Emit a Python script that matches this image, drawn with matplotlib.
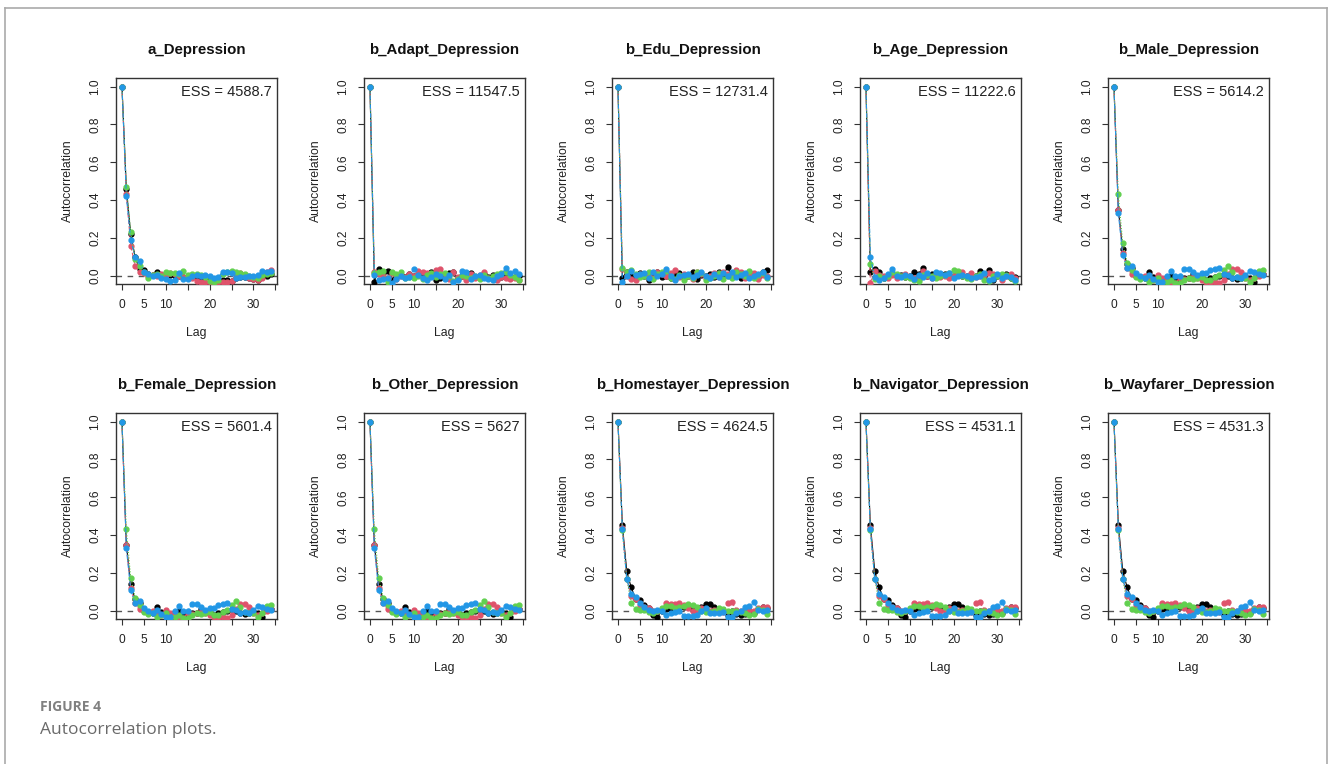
import matplotlib
matplotlib.use("Agg")
import matplotlib.pyplot as plt
from matplotlib.lines import Line2D

plt.rcParams['font.family'] = ['Liberation Sans', 'DejaVu Sans']

# lags 0..34
lags = list(range(35))

# chain colours (R 4.0 palette) and line types used by matplot
chain_colors = ['#000000', '#DF536B', '#61D04F', '#2297E6']
chain_ls = ['-', (0, (4, 2)), (0, (1, 1.5)), (0, (4, 1.5, 1, 1.5))]

# --- a_Depression
a_dep = [
    [1, 0.46, 0.22, 0.10, 0.035, 0.03, 0.01, 0.005, 0.02, 0.005, 0.0, 0.005, 0.0, 0.0, -0.005, -0.01, 0.0, -0.005,
     -0.01, -0.005, -0.01, -0.015, -0.02, -0.02, -0.02, -0.025, -0.01, -0.005, -0.005, -0.01, -0.015, -0.02, -0.005, 0.0, 0.01],
    [1, 0.43, 0.16, 0.05, 0.02, 0.015, 0.0, 0.005, 0.0, 0.01, 0.005, 0.015, 0.01, 0.0, -0.005, 0.0, -0.01, -0.025,
     -0.03, -0.035, -0.035, -0.04, -0.035, -0.03, -0.035, -0.025, 0.0, 0.015, 0.0, -0.01, -0.015, -0.02, -0.01, 0.02, 0.03],
    [1, 0.47, 0.23, 0.09, 0.05, 0.02, -0.01, 0.005, 0.01, 0.0, 0.02, 0.015, 0.015, 0.01, 0.025, 0.005, 0.01, 0.01,
     0.005, -0.005, -0.025, -0.035, -0.02, 0.01, 0.02, 0.025, 0.02, 0.015, 0.01, 0.0, -0.005, -0.01, 0.005, 0.01, 0.015],
    [1, 0.42, 0.19, 0.10, 0.08, 0.02, 0.01, 0.0, 0.005, -0.01, -0.015, -0.025, -0.02, 0.015, -0.015, -0.015, 0.0, 0.005,
     0.0, 0.005, 0.0, -0.01, -0.005, 0.02, 0.02, 0.015, -0.01, -0.005, -0.005, 0.0, 0.0, 0.005, 0.025, 0.02, 0.025],
]

# --- b_Adapt_Depression
b_adapt = [
    [1, -0.03, 0.035, 0.015, 0.025, -0.02, 0.0, 0.005, -0.005, 0.01, 0.0, 0.005, 0.015, -0.01, 0.02, -0.02, -0.01, 0.01,
     0.015, 0.02, -0.01, 0.0, 0.01, 0.015, -0.005, 0.0, 0.01, -0.005, 0.005, -0.015, -0.005, 0.0, -0.01, -0.005, 0.0],
    [1, 0.02, 0.01, 0.0, -0.01, 0.015, -0.015, 0.0, -0.005, 0.01, 0.0, 0.025, 0.02, 0.015, 0.0, 0.03, 0.035, 0.01,
     -0.015, 0.02, -0.005, 0.0, -0.02, 0.01, -0.01, 0.005, 0.02, -0.01, -0.015, -0.02, -0.005, -0.01, -0.015, -0.01, -0.02],
    [1, 0.015, 0.02, 0.025, -0.035, 0.02, 0.01, 0.02, -0.01, -0.005, -0.01, 0.0, -0.015, 0.005, 0.015, -0.005, 0.01, 0.015,
     0.0, -0.025, -0.015, 0.005, 0.0, -0.01, 0.0, -0.015, 0.005, -0.01, 0.0, 0.01, 0.015, 0.02, 0.005, -0.005, -0.02],
    [1, 0.005, -0.02, -0.015, -0.01, -0.04, -0.015, 0.0, -0.01, -0.005, 0.035, 0.005, -0.01, -0.02, -0.005, 0.01, 0.0, -0.015,
     0.005, -0.03, -0.02, 0.025, 0.02, -0.015, 0.0, 0.005, -0.01, -0.015, -0.02, 0.0, 0.01, 0.04, 0.015, 0.025, 0.01],
]

# --- b_Edu_Depression
b_edu = [
    [1, -0.01, 0.02, 0.0, -0.01, 0.015, 0.0, -0.02, 0.005, 0.02, -0.005, 0.0, -0.01, 0.01, 0.015, -0.01, 0.0, 0.02,
     -0.015, 0.005, 0.0, 0.01, -0.005, 0.02, 0.005, 0.045, 0.0, 0.015, -0.01, 0.0, 0.02, 0.01, -0.005, 0.02, 0.03],
    [1, 0.035, 0.0, -0.015, -0.02, 0.01, 0.005, 0.0, -0.01, 0.02, 0.01, 0.0, 0.015, 0.03, -0.005, 0.01, 0.0, -0.015,
     0.02, 0.01, -0.01, 0.0, 0.015, -0.005, 0.02, 0.01, 0.0, 0.03, 0.02, -0.01, 0.0, 0.015, -0.015, 0.005, 0.0],
    [1, 0.04, 0.02, 0.03, 0.01, -0.005, 0.0, 0.02, -0.015, 0.01, 0.02, 0.025, -0.01, -0.015, 0.005, -0.02, 0.0, -0.01,
     0.02, 0.015, -0.02, -0.01, 0.0, 0.015, -0.015, 0.0, -0.01, 0.02, 0.01, 0.0, 0.025, -0.01, 0.005, 0.015, -0.01],
    [1, -0.03, 0.0, 0.025, 0.005, 0.01, 0.015, -0.01, 0.02, 0.0, 0.01, 0.035, 0.0, -0.02, 0.0, 0.005, 0.01, -0.005,
     0.005, 0.02, 0.0, -0.01, 0.01, -0.005, 0.015, 0.0, 0.02, -0.005, 0.005, 0.015, -0.01, 0.0, 0.01, 0.02, -0.005],
]

# --- b_Age_Depression
b_age = [
    [1, 0.02, 0.035, 0.02, -0.01, 0.0, 0.01, 0.0, 0.005, -0.005, 0.0, 0.02, 0.01, 0.04, 0.0, 0.01, 0.005, 0.0,
     0.01, -0.005, 0.0, 0.005, 0.0, 0.0, -0.01, 0.0, 0.025, 0.0, 0.03, -0.02, 0.0, -0.005, 0.01, -0.01, -0.005],
    [1, -0.04, 0.025, 0.005, 0.0, -0.01, 0.005, -0.01, 0.0, 0.01, -0.005, -0.01, -0.015, 0.025, 0.0, -0.01, 0.01, -0.005,
     0.0, -0.01, 0.0, 0.01, 0.02, 0.0, 0.015, -0.005, 0.0, 0.005, 0.015, 0.01, 0.005, -0.02, 0.0, 0.01, -0.01],
    [1, 0.06, -0.015, 0.0, -0.01, 0.0, 0.02, 0.01, 0.0, -0.005, -0.01, -0.02, -0.025, 0.005, 0.005, 0.0, -0.01, 0.0,
     0.005, 0.015, 0.03, 0.025, 0.0, -0.01, -0.015, 0.0, 0.01, -0.02, -0.025, 0.0, 0.0, 0.01, 0.005, -0.01, -0.025],
    [1, 0.10, -0.005, -0.02, -0.01, 0.01, 0.035, 0.0, -0.005, 0.005, 0.0, -0.015, 0.005, -0.005, 0.015, -0.01, 0.02, 0.015,
     0.005, 0.015, -0.01, 0.0, 0.005, 0.0, -0.01, -0.005, 0.0, 0.015, -0.02, -0.015, 0.01, -0.01, 0.0, -0.005, -0.02],
]

# --- b_Male / b_Female / b_Other (visually identical in the reference)
b_male = [
    [1, 0.35, 0.14, 0.06, 0.04, 0.0, -0.005, -0.01, 0.02, -0.005, -0.01, -0.02, -0.01, 0.0, -0.01, -0.02, -0.01, -0.01,
     0.01, 0.0, -0.005, -0.02, -0.01, -0.005, 0.0, 0.01, 0.0, -0.01, -0.015, -0.01, 0.0, -0.01, -0.03, 0.005, 0.01],
    [1, 0.35, 0.12, 0.04, 0.01, 0.0, -0.005, 0.0, -0.005, -0.02, 0.005, -0.01, -0.02, -0.03, -0.04, -0.01, -0.015, -0.01,
     -0.005, -0.01, -0.02, -0.03, -0.04, -0.035, -0.04, -0.02, 0.01, 0.035, 0.035, 0.02, -0.01, -0.02, -0.01, 0.0, 0.01],
    [1, 0.43, 0.175, 0.07, 0.03, -0.005, -0.015, -0.01, -0.03, -0.02, -0.01, -0.03, -0.035, -0.02, -0.04, -0.04, -0.02, -0.01,
     -0.015, -0.01, -0.005, -0.02, -0.02, -0.005, 0.005, 0.03, 0.05, 0.02, -0.005, -0.01, -0.01, -0.03, -0.01, 0.025, 0.03],
    [1, 0.33, 0.11, 0.04, 0.05, 0.015, 0.0, -0.01, 0.005, -0.015, -0.03, -0.03, 0.0, 0.025, 0.0, 0.0, 0.035, 0.035,
     0.02, 0.005, 0.015, 0.015, 0.03, 0.035, 0.04, 0.01, 0.005, -0.01, -0.005, -0.01, 0.005, 0.025, 0.02, 0.01, 0.005],
]

# --- b_Homestayer / b_Navigator / b_Wayfarer (visually identical)
b_home = [
    [1, 0.455, 0.21, 0.125, 0.065, 0.055, 0.03, 0.015, -0.02, -0.03, 0.0, 0.01, 0.005, 0.01, 0.02, 0.02, 0.025, 0.01,
     0.01, 0.02, 0.035, 0.035, 0.02, 0.005, 0.0, -0.02, 0.0, -0.015, -0.02, -0.015, -0.01, -0.01, 0.01, 0.02, 0.015],
    [1, 0.44, 0.17, 0.08, 0.065, 0.03, 0.02, 0.015, 0.0, 0.0, 0.01, 0.04, 0.035, 0.035, 0.04, 0.03, 0.015, 0.0,
     0.005, 0.015, 0.01, 0.0, 0.005, 0.0, -0.005, 0.04, 0.045, 0.005, 0.0, -0.005, 0.005, 0.0, 0.015, 0.02, 0.02],
    [1, 0.425, 0.17, 0.04, 0.01, 0.005, 0.005, -0.005, -0.01, 0.0, 0.015, 0.025, 0.025, 0.015, 0.02, 0.025, 0.035, 0.03,
     0.02, 0.0, -0.005, -0.005, 0.0, 0.015, 0.01, 0.0, 0.0, 0.0, -0.005, -0.01, -0.02, -0.015, 0.01, 0.005, -0.015],
    [1, 0.43, 0.17, 0.09, 0.075, 0.04, 0.02, 0.005, 0.0, 0.005, 0.0, -0.02, -0.01, -0.005, 0.0, -0.025, -0.025, -0.025,
     -0.02, 0.0, 0.015, -0.01, -0.01, -0.01, -0.005, -0.035, -0.03, -0.01, 0.0, 0.02, 0.025, 0.045, 0.005, 0.0, 0.005],
]

titles = ['a_Depression', 'b_Adapt_Depression', 'b_Edu_Depression', 'b_Age_Depression', 'b_Male_Depression',
          'b_Female_Depression', 'b_Other_Depression', 'b_Homestayer_Depression', 'b_Navigator_Depression',
          'b_Wayfarer_Depression']
ess = ['4588.7', '11547.5', '12731.4', '11222.6', '5614.2',
       '5601.4', '5627', '4624.5', '4531.1', '4531.3']
panel_data = [a_dep, b_adapt, b_edu, b_age, b_male,
              b_male, b_male, b_home, b_home, b_home]

W, H = 1328, 764
fig = plt.figure(figsize=(W / 100, H / 100), dpi=100)

box_w, box_h = 161, 206
for i, (title, e, chains) in enumerate(zip(titles, ess, panel_data)):
    r, c = divmod(i, 5)
    left = 116 + 248 * c
    top = 78 + 335 * r
    ax = fig.add_axes([left / W, 1 - (top + box_h) / H, box_w / W, box_h / H])
    for vals, col, ls in zip(chains, chain_colors, chain_ls):
        ax.plot(lags, vals, color=col, ls=ls, lw=0.8, marker='o', ms=3.5,
                mec=col, mfc=col, zorder=3)
    ax.axhline(0, color='#555555', ls=(0, (4, 4)), lw=1.0, zorder=2)
    ax.set_xlim(-1.36, 35.36)
    ax.set_ylim(-0.043, 1.045)
    ax.set_xticks(range(0, 36, 5))
    ax.set_xticklabels(['0', '5', '10', '', '20', '', '30', ''])
    ax.set_yticks([0, 0.2, 0.4, 0.6, 0.8, 1.0])
    ax.set_yticklabels(['0.0', '0.2', '0.4', '0.6', '0.8', '1.0'], rotation=90, va='center')
    ax.tick_params(length=4.5, width=0.8, color='#333333', labelsize=8.6, labelcolor='#222222', pad=6)
    for s in ax.spines.values():
        s.set_color('#333333')
        s.set_linewidth(1.0)
    ax.text(0.5, 1 + 28 / box_h, title, transform=ax.transAxes, ha='center', va='center',
            fontsize=10.8, fontweight='bold', color='#111111')
    ax.text(0.969, 0.932, 'ESS = ' + e, transform=ax.transAxes, ha='right', va='center',
            fontsize=10.5, color='#222222')
    ax.text(0.5, -49 / box_h, 'Lag', transform=ax.transAxes, ha='center', va='center',
            fontsize=8.8, color='#222222')
    ax.text(-48 / box_w, 0.5, 'Autocorrelation', transform=ax.transAxes, ha='center', va='center',
            rotation=90, fontsize=8.8, color='#222222')

# caption
fig.text(40 / W, 1 - 707 / H, 'FIGURE 4', fontsize=10, color='#808080', fontweight='bold',
         family=['Open Sans', 'DejaVu Sans'], va='center', ha='left')
fig.text(40 / W, 1 - 730 / H, 'Autocorrelation plots.', fontsize=12.5, color='#6a6a6a',
         family=['Open Sans', 'DejaVu Sans'], va='center', ha='left')

# outer frame (open at the bottom)
bx0, bx1, by0 = 4.5 / W, 1326.5 / W, 1 - 7.5 / H
for xs, ys in [([bx0, bx1], [by0, by0]), ([bx0, bx0], [by0, 0]), ([bx1, bx1], [by0, 0])]:
    fig.add_artist(Line2D(xs, ys, transform=fig.transFigure, color='#aaaaaa', lw=1.2))

fig.savefig('out.png', dpi=100)
